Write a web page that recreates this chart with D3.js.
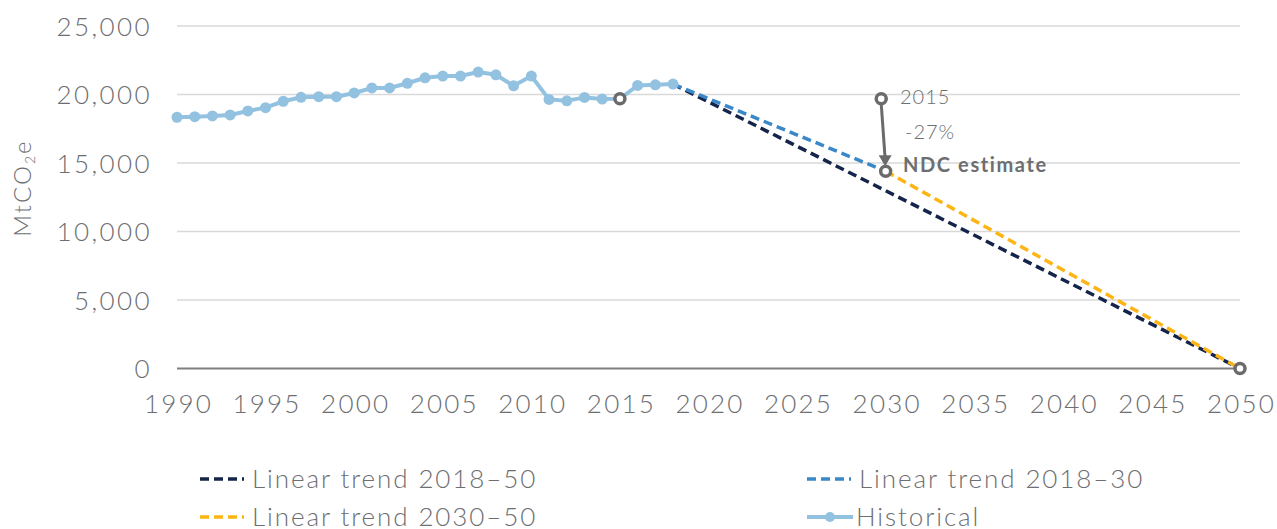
<!DOCTYPE html>
<html><head><meta charset="utf-8">
<script src="https://cdn.jsdelivr.net/npm/d3@7"></script>
<style>
body{margin:0;background:#fff;}
svg text{font-family:"Lato","Noto Sans",sans-serif;font-weight:300;fill:#6d6e71;}
</style></head>
<body><svg id="c" width="1277" height="529"></svg>
<script>
const years = d3.range(1990, 2019);
const historical = [18340,18383,18434,18507,18799,19040,19507,19798,19842,19842,20112,20477,20477,20820,21221,21345,21345,21638,21440,20636,21345,19642,19540,19788,19664,19686,20665,20709,20760];
const trend2018_50 = [[2018,20760],[2050,0]];
const trend2018_30 = [[2018,20760],[2030,14400]];
const trend2030_50 = [[2030,14400],[2050,0]];
const markerPoints = [[2015,19686],[2029.75,19686],[2030,14400],[2050,0]];
const yTicks = [0,5000,10000,15000,20000,25000];
const xTicks = d3.range(1990, 2051, 5);
const legendItems = [
  {label:"Linear trend 2018–50", color:"#14244a", type:"dash"},
  {label:"Linear trend 2018–30", color:"#3b88c9", type:"dash"},
  {label:"Linear trend 2030–50", color:"#fdb515", type:"dash"},
  {label:"Historical", color:"#93c2e1", type:"line"}
];

const svg = d3.select("#c");
const x = d3.scaleLinear().domain([1990,2050]).range([177,1240]);
const y = d3.scaleLinear().domain([0,25000]).range([368.5,26]);

// gridlines
svg.append("g").selectAll("line").data(yTicks.filter(d=>d>0)).join("line")
  .attr("x1",x(1990)).attr("x2",x(2050)).attr("y1",d=>y(d)).attr("y2",d=>y(d))
  .attr("stroke","#d9d9d9").attr("stroke-width",1.3);
// baseline
svg.append("line").attr("x1",x(1990)).attr("x2",x(2050)).attr("y1",y(0)).attr("y2",y(0))
  .attr("stroke","#7f7f7f").attr("stroke-width",2);

// y axis labels
const yAxis = d3.axisLeft(y).tickValues(yTicks).tickFormat(d3.format(",")).tickSize(0).tickPadding(0);
const gy = svg.append("g").attr("transform","translate(152,0)").call(yAxis);
gy.select(".domain").remove();
gy.selectAll("text").attr("font-size",26).attr("dy","0.35em").style("letter-spacing","2.4px");

const xAxis = d3.axisBottom(x).tickValues(xTicks).tickFormat(d3.format("d")).tickSize(0).tickPadding(0);
const gx = svg.append("g").attr("transform","translate(1,413)").call(xAxis);
gx.select(".domain").remove();
gx.selectAll("text").attr("font-size",26).attr("dy",0).style("letter-spacing","2.2px");

// y title
svg.append("text").attr("transform","translate(31,188) rotate(-90)").attr("text-anchor","middle")
  .attr("font-size",24).style("letter-spacing","2px").html('MtCO<tspan font-size="14" dy="4">2</tspan><tspan dy="-4">e</tspan>');

const line = d3.line().x(d=>x(d[0])).y(d=>y(d[1]));
function dashed(data,color){
  svg.append("path").attr("d",line(data)).attr("fill","none").attr("stroke",color)
    .attr("stroke-width",3.5).attr("stroke-dasharray","9,5");
}
dashed(trend2018_50, legendItems[0].color);
dashed(trend2018_30, legendItems[1].color);
dashed(trend2030_50, legendItems[2].color);

const hist = years.map((yr,i)=>[yr,historical[i]]);
svg.append("path").attr("d",line(hist)).attr("fill","none").attr("stroke",legendItems[3].color).attr("stroke-width",4);
svg.append("g").selectAll("circle").data(hist).join("circle")
  .attr("cx",d=>x(d[0])).attr("cy",d=>y(d[1])).attr("r",5.5).attr("fill",legendItems[3].color);

// arrow
svg.append("line").attr("x1",x(markerPoints[1][0])).attr("y1",y(markerPoints[1][1])+5)
  .attr("x2",x(markerPoints[2][0])-0.5).attr("y2",y(markerPoints[2][1])-12)
  .attr("stroke","#6b6b6b").attr("stroke-width",3);
svg.append("path").attr("d",`M${x(2030)-7},${y(14400)-16} L${x(2030)+6},${y(14400)-16} L${x(2030)-0.5},${y(14400)-5} Z`).attr("fill","#6b6b6b");

svg.append("g").selectAll("circle").data(markerPoints).join("circle")
  .attr("cx",d=>x(d[0])).attr("cy",d=>y(d[1])).attr("r",5).attr("fill","#fff")
  .attr("stroke","#6b6b6b").attr("stroke-width",3.5);

// annotations
svg.append("text").attr("x",900).attr("y",104).attr("font-size",20).style("letter-spacing","1px").text("2015");
svg.append("text").attr("x",905).attr("y",139).attr("font-size",20).style("letter-spacing","1px").text("-27%");
svg.append("text").attr("x",903).attr("y",172).attr("font-size",20).style("font-weight",700).style("letter-spacing","1.6px").text("NDC estimate");

// legend
const lg = svg.append("g");
const pos = [[200,479],[807,479],[200,517],[807,517]];
legendItems.forEach((it,i)=>{
  const [lx,ly]=pos[i];
  const g = lg.append("g").attr("transform",`translate(${lx},${ly})`);
  if(it.type==="dash"){
    g.append("line").attr("x1",0).attr("x2",44).attr("y1",0).attr("y2",0).attr("stroke",it.color)
      .attr("stroke-width",3.5).attr("stroke-dasharray","9,5");
    g.append("text").attr("x",52).attr("y",9).attr("font-size",26).style("letter-spacing","1.9px").text(it.label);
  } else {
    g.append("line").attr("x1",0).attr("x2",46).attr("y1",0).attr("y2",0).attr("stroke",it.color).attr("stroke-width",4);
    g.append("circle").attr("cx",23).attr("cy",0).attr("r",5).attr("fill",it.color);
    g.append("text").attr("x",49).attr("y",9).attr("font-size",26).style("letter-spacing","1.9px").text(it.label);
  }
});
</script></body></html>
